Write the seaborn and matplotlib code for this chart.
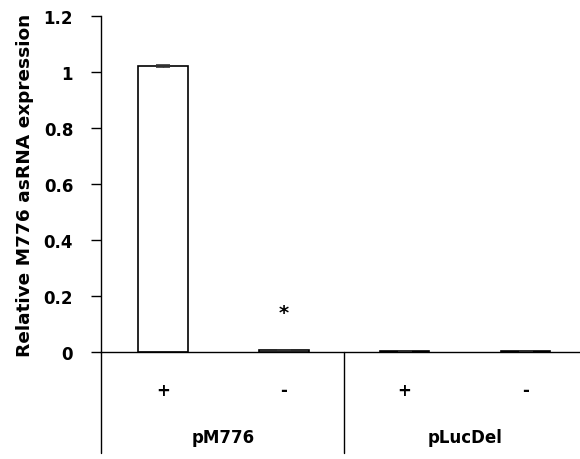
import matplotlib
matplotlib.use("Agg")
import matplotlib.pyplot as plt
import matplotlib.transforms as mtransforms
import pandas as pd
import seaborn as sns

# data
conditions = ["pM776 +", "pM776 -", "pLucDel +", "pLucDel -"]
tick_labels = ["+", "-", "+", "-"]
groups = ["pM776", "pLucDel"]
values = [1.022, 0.006, 0.005, 0.005]
errors = [0.004, 0.0, 0.0, 0.0]

df = pd.DataFrame({"cond": conditions, "value": values})

sns.set_style("ticks")
plt.rcParams["font.family"] = ["DejaVu Sans"]
plt.rcParams["text.color"] = "black"
plt.rcParams["axes.labelcolor"] = "black"
plt.rcParams["xtick.color"] = "black"
plt.rcParams["ytick.color"] = "black"

fig = plt.figure(figsize=(5.8, 4.6), dpi=100)
ax = fig.add_axes([0.174, 0.2326, 0.826, 0.7304])

sns.barplot(data=df, x="cond", y="value", order=conditions, color="white",
            edgecolor="black", linewidth=1.2, width=0.41, errorbar=None, ax=ax)
ax.errorbar(range(len(values)), values, yerr=errors, fmt="none",
            ecolor="#333333", elinewidth=1, capsize=5, capthick=1.2)

ax.set_xlim(-0.512, 3.45)
ax.set_ylim(0, 1.2)
ax.set_yticks([0, 0.2, 0.4, 0.6, 0.8, 1.0, 1.2])
ax.set_yticklabels(["0", "0.2", "0.4", "0.6", "0.8", "1", "1.2"])
ax.set_xticks(range(len(tick_labels)))
ax.set_xticklabels(tick_labels)
ax.tick_params(axis="x", length=0, pad=21, labelsize=12)
ax.tick_params(axis="y", length=7, width=1, direction="out", labelsize=12, pad=13)
for lab in ax.get_xticklabels() + ax.get_yticklabels():
    lab.set_fontweight("bold")

ax.set_xlabel("")
ax.set_ylabel("Relative M776 asRNA expression", fontsize=13.3, fontweight="bold",
              labelpad=7)

sns.despine(ax=ax)
for s in ["left", "bottom"]:
    ax.spines[s].set_color("black")
    ax.spines[s].set_linewidth(1.0)

# group separators below axis
trans = mtransforms.blended_transform_factory(ax.transData, ax.transAxes)
for xpos in [-0.512, 1.5]:
    ax.plot([xpos, xpos], [0, -0.30], color="black", lw=1.0,
            transform=trans, clip_on=False)
for i, g in enumerate(groups):
    ax.text(0.5 + 2 * i, -0.253, g, transform=trans, ha="center", va="center",
            fontsize=12, fontweight="bold")

ax.text(1, 0.14, "*", ha="center", va="center", fontsize=14, fontweight="bold")

fig.savefig("out.png", dpi=100, facecolor="white")
